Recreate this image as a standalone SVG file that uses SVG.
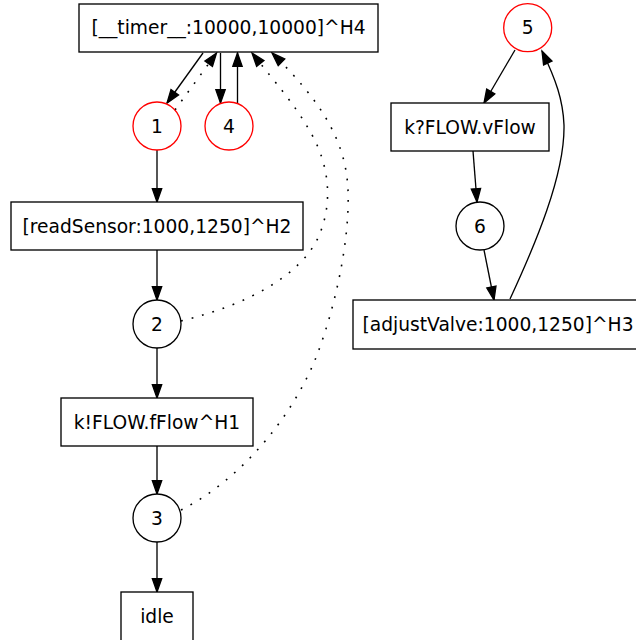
<svg xmlns="http://www.w3.org/2000/svg" width="636" height="640" viewBox="0 0 636 640">
<style>
text{font-family:"DejaVu Sans","Noto Sans",sans-serif;font-size:18.67px;fill:#000;text-anchor:middle}
.box{fill:#fff;stroke:#000;stroke-width:1.33}
.st{fill:#fff;stroke:#000;stroke-width:1.33}
.init{fill:#fff;stroke:#ff0000;stroke-width:1.33}
.e{fill:none;stroke:#000;stroke-width:1.33;marker-end:url(#ah)}
.d{fill:none;stroke:#000;stroke-width:1.6;stroke-dasharray:1.8,9;marker-end:url(#ah)}
</style>
<defs>
<marker id="ah" markerUnits="userSpaceOnUse" markerWidth="16" markerHeight="12" refX="13.3" refY="4.67" orient="auto" overflow="visible">
<path d="M0,0 L13.3,4.67 L0,9.33 z" fill="#000" stroke="#000" stroke-width="1.33" stroke-dasharray="none"/>
</marker>
</defs>
<rect width="636" height="640" fill="#fff"/>
<g id="edges">
<path class="e" d="M203,53 L167,103"/>
<path class="d" d="M175,110 L216.5,53"/>
<path class="e" d="M220.5,53 L220.5,103"/>
<path class="e" d="M237.5,103 L237.5,53"/>
<path class="d" d="M181,321 C250,304 300,275 318,238 C335,200 328,160 308,128 C295,105 275,82 252,53"/>
<path class="d" d="M181,510 C240,480 290,420 315,360 C335,310 350,240 348,190 C346,140 320,100 272,53"/>
<path class="e" d="M157,150 L157,202"/>
<path class="e" d="M157,250 L157,300"/>
<path class="e" d="M157,348 L157,398"/>
<path class="e" d="M157,446 L157,494"/>
<path class="e" d="M157,542 L157,592"/>
<path class="e" d="M515,50 L484,103"/>
<path class="e" d="M473,151 L477,202"/>
<path class="e" d="M484,250 L494,300"/>
<path class="e" d="M510,299 C535,245 565,175 564,125 C563,100 556,80 542,51"/>
</g>
<g id="timer"><rect class="box" x="79" y="4" width="299" height="48"/><text x="228.5" y="34">[__timer__:10000,10000]^H4</text></g>
<g id="n1"><circle class="init" cx="157" cy="126" r="24"/><text x="157" y="132.5">1</text></g>
<g id="n4"><circle class="init" cx="229" cy="126" r="24"/><text x="229" y="132.5">4</text></g>
<g id="readSensor"><rect class="box" x="11" y="202" width="292" height="48"/><text x="157" y="232.5">[readSensor:1000,1250]^H2</text></g>
<g id="n2"><circle class="st" cx="157" cy="324" r="24"/><text x="157" y="330.5">2</text></g>
<g id="send"><rect class="box" x="61" y="398" width="192" height="48"/><text x="157" y="428.5">k!FLOW.fFlow^H1</text></g>
<g id="n3"><circle class="st" cx="157" cy="518" r="24"/><text x="157" y="524.5">3</text></g>
<g id="idle"><rect class="box" x="121" y="592" width="72" height="56"/><text x="157" y="622.5">idle</text></g>
<g id="n5"><circle class="init" cx="527.7" cy="27.7" r="24"/><text x="527.7" y="34">5</text></g>
<g id="recv"><rect class="box" x="391" y="103" width="158" height="48"/><text x="470" y="133.5">k?FLOW.vFlow</text></g>
<g id="n6"><circle class="st" cx="480" cy="226" r="24"/><text x="480" y="232.5">6</text></g>
<g id="adjustValve"><rect class="box" x="353" y="300" width="291" height="49"/><text x="498" y="331">[adjustValve:1000,1250]^H3</text></g>
</svg>
